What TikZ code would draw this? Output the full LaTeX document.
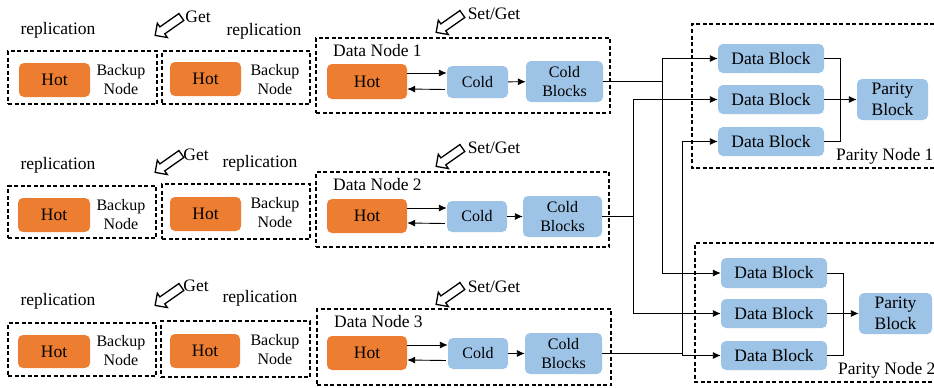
\documentclass[tikz,border=0pt]{standalone}
\usepackage{fontspec}
\setmainfont{Liberation Serif}
\usetikzlibrary{arrows.meta,shapes.arrows}
\definecolor{hotc}{HTML}{ED7D31}
\definecolor{coldc}{HTML}{9DC3E6}
\tikzset{
  big/.style={font=\fontsize{17.5}{19}\selectfont},
  small/.style={font=\fontsize{16}{19}\selectfont},
  dbox/.style={draw=black, line width=1.4pt, dash pattern=on 4pt off 2.5pt},
  hotbox/.style={fill=hotc, rounded corners=5pt, big, inner sep=0pt},
  coldbox/.style={fill=coldc, rounded corners=5pt, small, inner sep=0pt, align=center},
  pbox/.style={fill=coldc, rounded corners=5pt, font=\fontsize{17.5}{21}\selectfont, inner sep=0pt, align=center},
  txt/.style={small, align=center, inner sep=0pt},
  lbl/.style={big, inner sep=0pt},
  conn/.style={draw=black, line width=0.9pt},
  arr/.style={conn, -{Latex[length=8pt,width=7pt]}},
  blockarrow/.style={single arrow, draw=black, fill=white, line width=1.3pt,
     minimum height=32pt, inner sep=3.6pt, single arrow head extend=4.5pt,
     single arrow tip angle=90, rotate=215},
}
\begin{document}
\begin{tikzpicture}[x=1pt,y=-1pt]
\useasboundingbox (0,0) rectangle (934,388);

% ---------- Backup nodes ----------
% row 1
\node[dbox, minimum width=149pt, minimum height=53pt] (bk1a) at (82.5,77.5) {};
\node[hotbox, minimum width=71pt, minimum height=34pt] (hot1a) at (54.5,80) {Hot};
\node[txt] (bn1a) at (121,80) {Backup\\Node};
\node[dbox, minimum width=148pt, minimum height=53pt] (bk1b) at (236,77.5) {};
\node[hotbox, minimum width=71pt, minimum height=34pt] (hot1b) at (205.5,79) {Hot};
\node[txt] (bn1b) at (275,80) {Backup\\Node};
\node[lbl] (rep1a) at (58,30) {replication};
\node[lbl] (rep1b) at (264,31) {replication};
\node[blockarrow] (ga1) at (170,25) {};
\node[lbl] (get1) at (198,17) {Get};

% row 2
\node[dbox, minimum width=148pt, minimum height=52pt] (bk2a) at (82,212) {};
\node[hotbox, minimum width=72pt, minimum height=34pt] (hot2a) at (54,215) {Hot};
\node[txt] (bn2a) at (121,214.5) {Backup\\Node};
\node[dbox, minimum width=148pt, minimum height=55pt] (bk2b) at (236,211.5) {};
\node[hotbox, minimum width=71pt, minimum height=34pt] (hot2b) at (205.5,214) {Hot};
\node[txt] (bn2b) at (275,213) {Backup\\Node};
\node[lbl] (rep2a) at (58,165) {replication};
\node[lbl] (rep2b) at (260,163) {replication};
\node[blockarrow] (ga2) at (170,162) {};
\node[lbl] (get2) at (196,155) {Get};

% row 3
\node[dbox, minimum width=148pt, minimum height=53pt] (bk3a) at (82,349.5) {};
\node[hotbox, minimum width=72pt, minimum height=33pt] (hot3a) at (54,351.5) {Hot};
\node[txt] (bn3a) at (121,351) {Backup\\Node};
\node[dbox, minimum width=149pt, minimum height=56pt] (bk3b) at (235.5,349) {};
\node[hotbox, minimum width=70pt, minimum height=34pt] (hot3b) at (205,351) {Hot};
\node[txt] (bn3b) at (275,350) {Backup\\Node};
\node[lbl] (rep3a) at (58,301) {replication};
\node[lbl] (rep3b) at (260,298) {replication};
\node[blockarrow] (ga3) at (170,295) {};
\node[lbl] (get3) at (196,286) {Get};

% ---------- Data nodes ----------
% DN1
\node[dbox, minimum width=294pt, minimum height=75pt] (dn1) at (463,75.5) {};
\node[lbl, anchor=west] (dn1l) at (333,51) {Data Node 1};
\node[hotbox, minimum width=80pt, minimum height=35pt] (dh1) at (367,81.5) {Hot};
\node[coldbox, minimum width=61pt, minimum height=32pt] (c1) at (477.5,82) {Cold};
\node[coldbox, minimum width=77pt, minimum height=41pt] (cb1) at (564.5,81.5) {Cold\\Blocks};
\node[blockarrow] (sa1) at (451,22) {};
\node[lbl] (sg1) at (494,14) {Set/Get};
\draw[arr] ([yshift=8.5pt]dh1.east) -- ([yshift=8.5pt]dh1.east -| c1.west);
\draw[arr] ([yshift=-7.5pt]c1.west) ++(-2pt,0) -- ([yshift=-7.5pt]dh1.east);
\draw[arr] (c1) -- (cb1);

% DN2
\node[dbox, minimum width=293pt, minimum height=75pt] (dn2) at (462.5,209.5) {};
\node[lbl, anchor=west] (dn2l) at (333,185) {Data Node 2};
\node[hotbox, minimum width=80pt, minimum height=34pt] (dh2) at (367,216) {Hot};
\node[coldbox, minimum width=60pt, minimum height=31pt] (c2) at (477,216.5) {Cold};
\node[coldbox, minimum width=79pt, minimum height=41pt] (cb2) at (562.5,216.5) {Cold\\Blocks};
\node[blockarrow] (sa2) at (451,156) {};
\node[lbl] (sg2) at (494,148) {Set/Get};
\draw[arr] ([yshift=8pt]dh2.east) -- ([yshift=8pt]dh2.east -| c2.west);
\draw[arr] ([yshift=-7pt]c2.west) ++(-2pt,0) -- ([yshift=-7pt]dh2.east);
\draw[arr] (c2) -- (cb2);

% DN3
\node[dbox, minimum width=294pt, minimum height=76pt] (dn3) at (464,347) {};
\node[lbl, anchor=west] (dn3l) at (334,322) {Data Node 3};
\node[hotbox, minimum width=80pt, minimum height=34pt] (dh3) at (367,353) {Hot};
\node[coldbox, minimum width=60pt, minimum height=31pt] (c3) at (478,353.5) {Cold};
\node[coldbox, minimum width=77pt, minimum height=41pt] (cb3) at (563.5,353.5) {Cold\\Blocks};
\node[blockarrow] (sa3) at (451,294) {};
\node[lbl] (sg3) at (494,287) {Set/Get};
\draw[arr] ([yshift=8pt]dh3.east) -- ([yshift=8pt]dh3.east -| c3.west);
\draw[arr] ([yshift=-7pt]c3.west) ++(-2pt,0) -- ([yshift=-7pt]dh3.east);
\draw[arr] (c3) -- (cb3);

% ---------- Parity nodes ----------
\draw[dbox] (934,24) -- (692,24) -- (692,168) -- (934,168);
\node[pbox, minimum width=106pt, minimum height=29pt] (p11) at (771,58.5) {Data Block};
\node[pbox, minimum width=106pt, minimum height=29pt] (p12) at (771,99.5) {Data Block};
\node[pbox, minimum width=106pt, minimum height=29pt] (p13) at (771,141.5) {Data Block};
\node[pbox, minimum width=71pt, minimum height=41pt] (pb1) at (892.5,99.5) {Parity\\Block};
\node[lbl, anchor=west] (pn1l) at (836,156) {Parity Node 1};
\coordinate (k1) at (840,58.5);
\draw[conn] (p11.east) -- (k1) -- (k1 |- p13.east) -- (p13.east);
\draw[arr] (p12) -- (pb1);

\draw[dbox] (934,243) -- (695,243) -- (695,382) -- (934,382);
\node[pbox, minimum width=106pt, minimum height=30pt] (p21) at (774,273) {Data Block};
\node[pbox, minimum width=106pt, minimum height=29pt] (p22) at (774,313.5) {Data Block};
\node[pbox, minimum width=106pt, minimum height=29pt] (p23) at (774,355.5) {Data Block};
\node[pbox, minimum width=73pt, minimum height=41pt] (pb2) at (895.5,313.5) {Parity\\Block};
\node[lbl, anchor=west] (pn2l) at (838,370) {Parity Node 2};
\coordinate (k2) at (843,273);
\draw[conn] (p21.east) -- (k2) -- (k2 |- p23.east) -- (p23.east);
\draw[arr] (p22) -- (pb2);

% ---------- Cold blocks to data blocks ----------
\coordinate (j1) at (662,81.5);
\coordinate (j2) at (633,216.5);
\coordinate (j3) at (682,353.5);
\draw[conn] (cb1.east) -- (j1);
\draw[arr] (j1) |- (p11.west);
\draw[arr] (j1) |- (p21.west);
\draw[conn] (cb2.east) -- (j2);
\draw[arr] (j2) |- (p12.west);
\draw[arr] (j2) |- (p22.west);
\draw[conn] (cb3.east) -- (j3);
\draw[arr] (j3) |- (p13.west);
\draw[arr] (j3) |- (p23.west);
\end{tikzpicture}
\end{document}
